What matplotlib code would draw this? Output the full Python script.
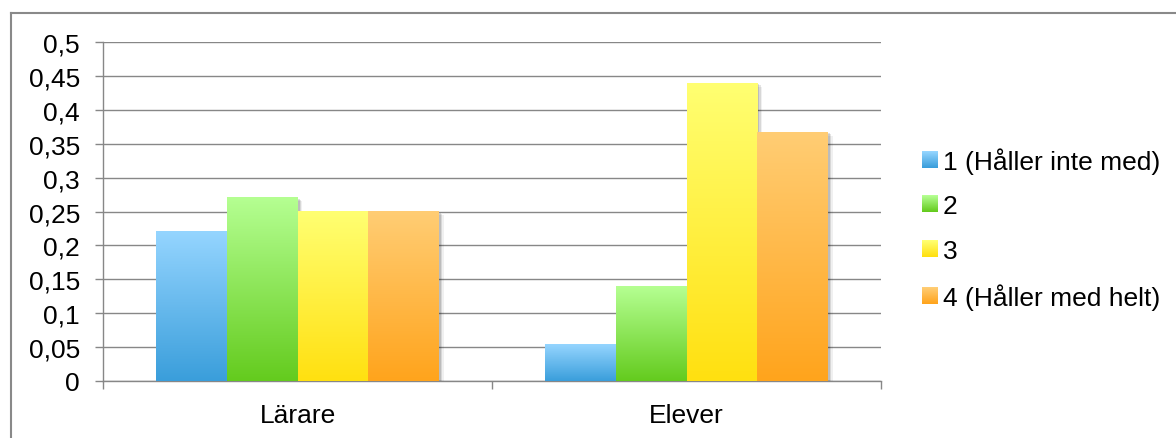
import matplotlib
matplotlib.use("Agg")
import matplotlib.pyplot as plt
import matplotlib.patheffects as pe
from matplotlib.colors import LinearSegmentedColormap
from matplotlib.lines import Line2D
from matplotlib.patches import Patch
import numpy as np

plt.rcParams['font.family'] = ['Liberation Sans', 'DejaVu Sans']

# andel svar per grupp och svarsalternativ
groups = ["Lärare", "Elever"]
answers = ["1 (Håller inte med)", "2", "3", "4 (Håller med helt)"]
larare = [0.22, 0.27, 0.25, 0.25]
elever = [0.054, 0.139, 0.439, 0.367]
yticks = [0, 0.05, 0.1, 0.15, 0.2, 0.25, 0.3, 0.35, 0.4, 0.45, 0.5]

# gradient per series: (top colour, bottom colour)
grads = [("#95d5ff", "#3a9edb"),
         ("#b5ff92", "#64cb1e"),
         ("#ffff72", "#ffe010"),
         ("#ffcd74", "#ffa41c")]

W, H, DPI = 1176, 439, 100
FS = 19
fig = plt.figure(figsize=(W/DPI, H/DPI), dpi=DPI)
ax = fig.add_axes([103/W, 1-382/H, (881-103)/W, (382-43)/H])

values = np.array([larare, elever]).T   # rows = answers
n = len(answers)
bw = 1/(n + 1.5)
x = np.arange(len(groups))
grey = "#878787"

shadow = [pe.SimplePatchShadow(offset=(3.5, -2.5), shadow_rgbFace="#000000", alpha=0.06),
          pe.SimplePatchShadow(offset=(2.5, -1.5), shadow_rgbFace="#000000", alpha=0.10),
          pe.SimplePatchShadow(offset=(1.5, -0.8), shadow_rgbFace="#000000", alpha=0.12),
          pe.Normal()]

for i in range(n):
    top, bot = grads[i]
    cmap = LinearSegmentedColormap.from_list("g%d" % i, [bot, top])
    bars = ax.bar(x + (i - (n-1)/2)*bw, values[i], bw, color=bot, zorder=3,
                  linewidth=0, path_effects=shadow)
    for b in bars:
        x0, w, h = b.get_x(), b.get_width(), b.get_height()
        grad = np.linspace(0, 1, 256).reshape(-1, 1)
        ax.imshow(grad, cmap=cmap, origin="lower", aspect="auto",
                  extent=[x0, x0+w, 0, h], zorder=4, interpolation="bicubic")

ax.set_xlim(-0.5, len(groups)-0.5)
ax.set_ylim(0, 0.5)

ax.set_yticks(yticks)
ax.set_yticklabels([("%g" % v).replace(".", ",") for v in yticks])
ax.yaxis.grid(True, color=grey, linewidth=1.0, zorder=0)
ax.set_axisbelow(True)

ax.set_xticks(x)
ax.set_xticklabels(groups)
ax.set_xticks(np.arange(len(groups)+1) - 0.5, minor=True)
ax.tick_params(axis="x", which="major", length=0, pad=16, labelsize=FS)
ax.tick_params(axis="x", which="minor", length=5.5, width=1.0, color=grey)
ax.tick_params(axis="y", length=5.5, width=1.0, color=grey, pad=11, labelsize=FS)

for s in ["top", "right"]:
    ax.spines[s].set_visible(False)
for s in ["left", "bottom"]:
    ax.spines[s].set_color(grey)
    ax.spines[s].set_linewidth(1.0)

handles = [Patch(facecolor=g[1], edgecolor="none") for g in grads]
leg = fig.legend(handles, answers, loc="center left", bbox_to_anchor=(922/W, 1-229.5/H),
                 frameon=False, fontsize=FS, handlelength=0.6, handleheight=0.6,
                 handletextpad=0.2, labelspacing=0.78, borderpad=0, borderaxespad=0)

# chart frame (only top and left edges are within the image)
fig.add_artist(Line2D([11/W, 1], [1-14/H, 1-14/H], color="#898989", linewidth=1.5))
fig.add_artist(Line2D([11/W, 11/W], [0, 1-14/H], color="#898989", linewidth=1.5))

# gradient fill for the legend keys
fig.canvas.draw()
for patch, (top, bot) in zip(leg.get_patches(), grads):
    bb = patch.get_window_extent()
    w, h = int(round(bb.width)), int(round(bb.height))
    t = np.linspace(0, 1, h).reshape(-1, 1, 1)
    c0 = np.array(matplotlib.colors.to_rgb(top))
    c1 = np.array(matplotlib.colors.to_rgb(bot))
    img = (c1*(1-t) + c0*t) * np.ones((h, w, 3))
    fig.figimage(img, xo=int(round(bb.x0)), yo=int(round(bb.y0)), origin="lower", zorder=10)

fig.savefig("out.png", dpi=DPI)
